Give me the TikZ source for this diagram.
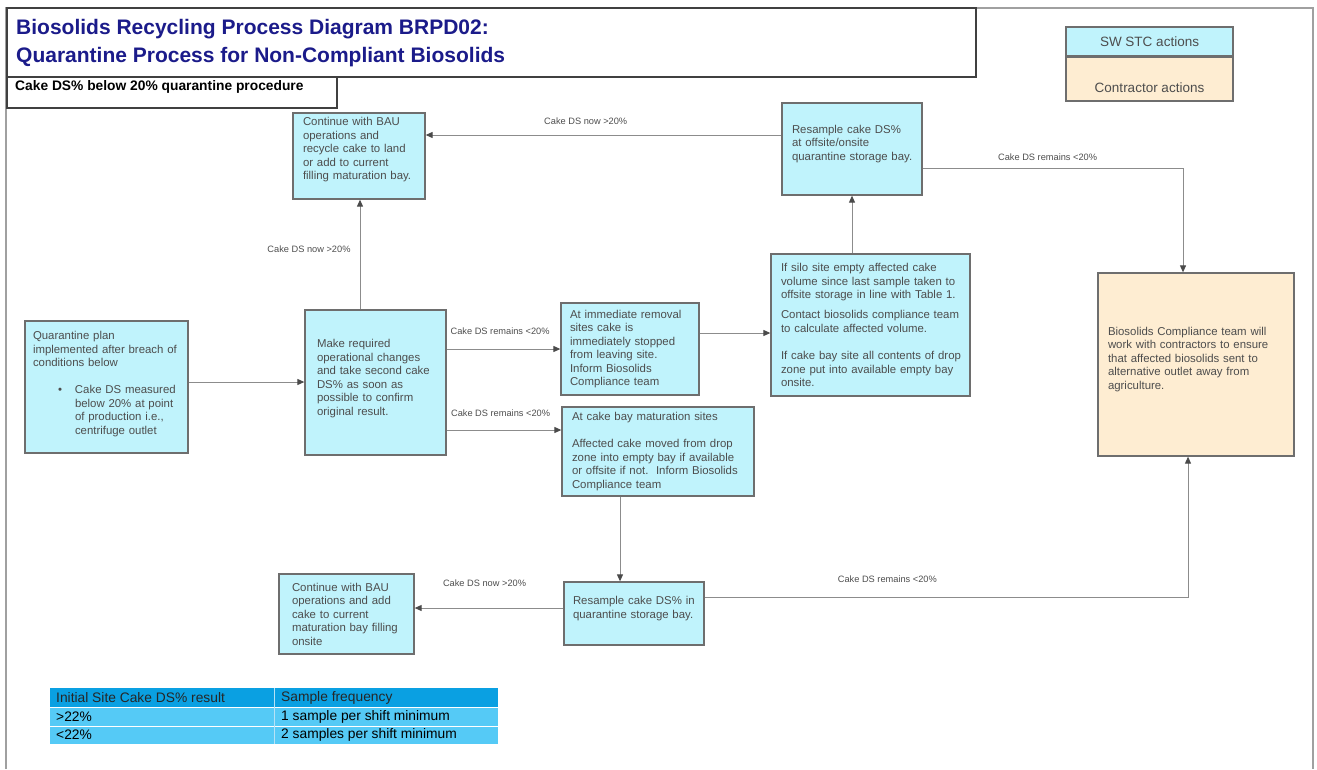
\documentclass[tikz,border=0pt]{standalone}
\usepackage{fontspec}
\setmainfont{Liberation Sans}
\usetikzlibrary{arrows.meta,calc}
\definecolor{boxcyan}{HTML}{C0F3FC}
\definecolor{boxorange}{HTML}{FEEDD2}
\definecolor{boxline}{HTML}{6E6E6E}
\definecolor{txtgray}{HTML}{4D4D4D}
\definecolor{conngray}{HTML}{8C8C8C}
\definecolor{tipgray}{HTML}{4A4A4A}
\definecolor{titleblue}{HTML}{1B1B8A}
\definecolor{framegray}{HTML}{A0A0A0}
\definecolor{tabhead}{HTML}{0AA0E2}
\definecolor{tabrow}{HTML}{55CAF6}
\newcommand\ragfix{\rightskip=-10pt plus 1fil\relax}
\tikzset{
  procbox/.style={draw=boxline, line width=1.3pt, fill=boxcyan, align=left,
    text=txtgray, inner ysep=0pt, font=\fontsize{11.4}{13.5}\selectfont},
  conbox/.style={procbox, fill=boxorange},
  conn/.style={draw=conngray, line width=1pt,
    -{Triangle[length=7pt,width=6pt,color=tipgray]}},
  lbl/.style={text=txtgray, inner sep=0pt, font=\fontsize{9.25}{11}\selectfont},
  tabtxt/.style={anchor=west, inner sep=0pt, font=\fontsize{13.8}{15}\selectfont}
}
\begin{document}
\begin{tikzpicture}[x=1pt,y=-1pt]
\useasboundingbox (0,0) rectangle (1317,769);
% outer frame
\draw[framegray, line width=1.5pt] (6,769) -- (6,8) -- (1313,8) -- (1313,769);
% title and subtitle boxes
\draw[fill=white, draw=black!75, line width=1.2pt] (7,8) rectangle (976,77);
\draw[fill=white, draw=black!75, line width=1.2pt] (7,77) rectangle (337,108);
\node[anchor=west, align=left, inner sep=0pt, text=titleblue,
  font=\fontsize{21}{28}\selectfont\bfseries] (title) at (16,43.5)
  {Biosolids Recycling Process Diagram BRPD02:\\Quarantine Process for Non-Compliant Biosolids};
\node[anchor=west, inner sep=0pt, font=\fontsize{13.8}{15}\selectfont\bfseries] (subtitle) at (15,87)
  {Cake DS\% below 20\% quarantine procedure};
% legend
\node[draw=boxline, line width=1.2pt, fill=boxcyan, minimum width=167pt, minimum height=29pt,
  inner sep=0pt, text=txtgray, font=\fontsize{13.5}{15}\selectfont] (legA) at (1149.5,41.5) {SW STC actions};
\node[draw=boxline, line width=1.2pt, fill=boxorange, minimum width=167pt, minimum height=44pt,
  inner sep=0pt] (legB) at (1149.5,79) {};
\node[inner sep=0pt, text=txtgray, font=\fontsize{13.5}{15}\selectfont] (legBt) at (1149.5,87.5) {Contractor actions};
% process boxes
\node[procbox, minimum width=163pt, minimum height=132pt, inner xsep=8pt, text width=147pt] (qp) at (106.5,387)
  {\ragfix Quarantine plan\\implemented after breach of\\conditions below\\[13.5pt]
   \hspace*{25pt}\makebox[17pt][l]{\textbullet}Cake DS measured\\
   \hspace*{42pt}below 20\% at point\\
   \hspace*{42pt}of production i.e.,\\
   \hspace*{42pt}centrifuge outlet\\[-5pt]\mbox{}};
\node[procbox, minimum width=141pt, minimum height=145pt, inner xsep=12pt, text width=117pt] (mk) at (375.5,382.5)
  {\ragfix Make required\\operational changes\\and take second cake\\DS\% as soon as\\possible to confirm\\original result.\\[-3pt]\mbox{}};
\node[procbox, minimum width=132pt, minimum height=86pt, inner xsep=10pt, text width=112pt] (bau1) at (359,156)
  {\ragfix Continue with BAU\\operations and\\recycle cake to land\\or add to current\\filling maturation bay.\\[1pt]\mbox{}};
\node[procbox, minimum width=138pt, minimum height=92pt, inner xsep=9pt, text width=120pt] (imm) at (630,349)
  {\ragfix At immediate removal\\sites cake is\\immediately stopped\\from leaving site.\\Inform Biosolids\\Compliance team};
\node[procbox, minimum width=192pt, minimum height=89pt, inner xsep=10pt, text width=172pt] (cb) at (658,451.5)
  {\ragfix At cake bay maturation sites\\[13.5pt]Affected cake moved from drop\\zone into empty bay if available\\or offsite if not.\ \ Inform Biosolids\\Compliance team};
\node[procbox, minimum width=199pt, minimum height=142pt, inner xsep=10pt, text width=179pt] (silo) at (870.5,325)
  {\ragfix If silo site empty affected cake\\volume since last sample taken to\\offsite storage in line with Table 1.\\[6.5pt]
   Contact biosolids compliance team\\to calculate affected volume.\\[14pt]
   If cake bay site all contents of drop\\zone put into available empty bay\\onsite.};
\node[procbox, minimum width=140pt, minimum height=92pt, inner xsep=10pt, text width=120pt] (rs1) at (852,149)
  {\ragfix Resample cake DS\%\\at offsite/onsite\\quarantine storage bay.\\[-1pt]\mbox{}};
\node[conbox, minimum width=196pt, minimum height=183pt, inner xsep=10pt, text width=176pt] (bc) at (1196,364.5)
  {\ragfix Biosolids Compliance team will\\work with contractors to ensure\\that affected biosolids sent to\\alternative outlet away from\\agriculture.\\[-1pt]\mbox{}};
\node[procbox, minimum width=140pt, minimum height=63pt, inner xsep=9pt, text width=122pt] (rs2) at (634,613.5)
  {\ragfix Resample cake DS\% in\\quarantine storage bay.\\[-1pt]\mbox{}};
\node[procbox, minimum width=135pt, minimum height=80pt, inner xsep=13pt, text width=109pt] (bau2) at (346.5,614)
  {\ragfix Continue with BAU\\operations and add\\cake to current\\maturation bay filling\\onsite};
% connectors
\draw[conn] ([yshift=5pt]qp.east) -- ([yshift=5pt]qp.east -| mk.west);
\draw[conn] ([xshift=-15.5pt]mk.north) -- ([xshift=-15.5pt]mk.north |- bau1.south)
  node[lbl, pos=0.55, left=9pt] (l1) {Cake DS now >20\%};
\draw[conn] (mk.east |- imm.west) -- (imm.west)
  node[lbl, pos=0.47, above=14pt] (l2) {Cake DS remains <20\%};
\draw[conn] ([yshift=-47.5pt]mk.east) -- ([yshift=-47.5pt]mk.east -| cb.west)
  node[lbl, pos=0.47, above=13pt] (l3) {Cake DS remains <20\%};
\draw[conn] ([yshift=16pt]imm.east) -- ([yshift=16pt]imm.east -| silo.west);
\draw[conn] (rs1.south |- silo.north) -- (rs1.south);
\draw[conn] ([yshift=14pt]rs1.west) -- ([yshift=14pt]rs1.west -| bau1.east)
  node[lbl, pos=0.55, above=10pt] (l4) {Cake DS now >20\%};
\draw[conn] ([yshift=-19pt]rs1.east) -| ([xshift=-13pt]bc.north)
  node[lbl, pos=0.24, above=7pt] (l5) {Cake DS remains <20\%};
\draw[conn] ([xshift=-38pt]cb.south) -- ([xshift=-38pt]cb.south |- rs2.north);
\draw[conn] ([yshift=5.5pt]rs2.west) -- ([yshift=5.5pt]rs2.west -| bau2.east)
  node[lbl, pos=0.53, above=21pt] (l6) {Cake DS now >20\%};
\draw[conn] ([yshift=16.5pt]rs2.east) -| ([xshift=-8pt]bc.south)
  node[lbl, pos=0.189, above=14pt] (l7) {Cake DS remains <20\%};
% table
\fill[tabhead] (50,688) rectangle (498,707);
\fill[tabrow] (50,707) rectangle (498,744);
\draw[white, line width=0.8pt] (50,707) -- (498,707) (50,726) -- (498,726);
\draw[white!70!tabhead, line width=1pt] (274,688) -- (274,744);
\node[tabtxt, text=black!85] (t11) at (56,697.5) {Initial Site Cake DS\% result};
\node[tabtxt, text=black!85] (t12) at (281,697.5) {Sample frequency};
\node[tabtxt] (t21) at (56,716.5) {>22\%};
\node[tabtxt] (t22) at (281,716.5) {1 sample per shift minimum};
\node[tabtxt] (t31) at (56,735) {<22\%};
\node[tabtxt] (t32) at (281,735) {2 samples per shift minimum};
\end{tikzpicture}
\end{document}
